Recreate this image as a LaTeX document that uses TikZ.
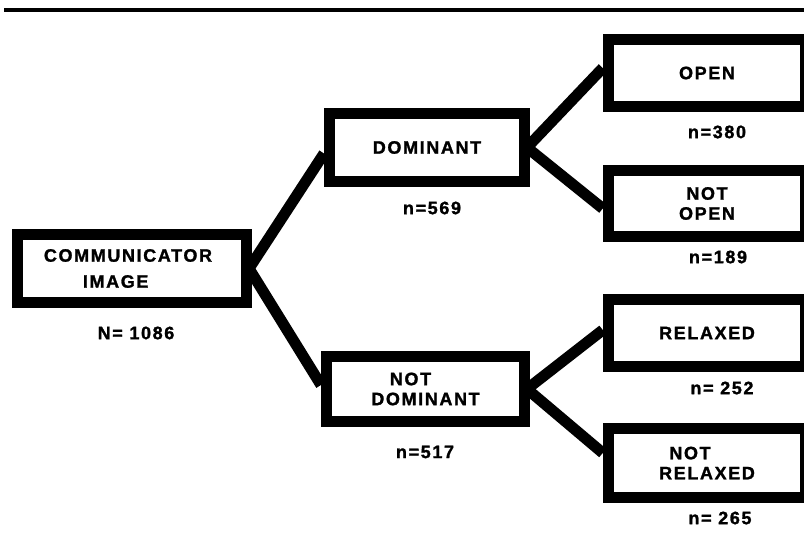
\documentclass[tikz,border=0pt]{standalone}
\usepackage{fontspec}
\newfontfamily\dfont{Liberation Sans}[LetterSpace=9,FakeBold=1.4]
\usetikzlibrary{calc,backgrounds}
\begin{document}
\begin{tikzpicture}[x=1pt,y=-1pt,
  box/.style={draw=black,line width=11pt,fill=white,inner sep=0pt,align=center,
    font=\dfont\bfseries\fontsize{18}{20}\selectfont},
  cnt/.style={inner sep=0pt,font=\dfont\bfseries\fontsize{18}{20}\selectfont},
  conn/.style={draw=black,line width=11pt,line cap=butt}]
\useasboundingbox (0,0) rectangle (804,543);
\clip (0,0) rectangle (804,543);
\draw[line width=4pt] (4,10.5) -- (804,10.5);

\node[box,minimum width=229pt,minimum height=68pt,align=left] (comm) at (132,268.5)
  {\hspace*{-8pt}COMMUNICATOR\\[6pt]\hspace*{31pt}IMAGE};
\node[box,minimum width=195pt,minimum height=68pt] (dom) at (427,147.5) {DOMINANT};
\node[box,minimum width=198pt,minimum height=65pt] (ndom) at (425.5,389)
  {NOT\hspace*{30pt}\\DOMINANT};
\node[box,minimum width=197.5pt,minimum height=67pt] (open) at (707,73) {OPEN};
\node[box,minimum width=197.5pt,minimum height=66pt] (nopen) at (707,203.5) {NOT\\OPEN};
\node[box,minimum width=197.5pt,minimum height=67pt] (rel) at (707,333) {RELAXED};
\node[box,minimum width=197.5pt,minimum height=69pt] (nrel) at (707,463)
  {NOT\hspace*{34pt}\\RELAXED};

\node[cnt] (ncomm) at (136,333) {N= 1086};
\node[cnt] (ndomc) at (432,208) {n=569};
\node[cnt] (nndom) at (425,452) {n=517};
\node[cnt] (nopenc) at (717,132) {n=380};
\node[cnt] (nnopen) at (718,257) {n=189};
\node[cnt] (nrelc) at (722,388) {n= 252};
\node[cnt] (nnrel) at (720,518) {n= 265};

\begin{scope}[on background layer]
\draw[conn] ($(comm.east)+(-3,0)$) -- ($(dom.west)+(0,6)$);
\draw[conn] ($(comm.east)+(-3,0)$) -- ($(ndom.west)+(0,-4)$);
\draw[conn] ($(dom.east)+(-3,0)$) -- ($(open.west)+(0,-5)$);
\draw[conn] ($(dom.east)+(-3,0)$) -- ($(nopen.west)+(0,5)$);
\draw[conn] ($(ndom.east)+(-3,0)$) -- ($(rel.west)+(0,-3)$);
\draw[conn] ($(ndom.east)+(-3,0)$) -- ($(nrel.west)+(0,-10)$);
\end{scope}
\end{tikzpicture}
\end{document}
